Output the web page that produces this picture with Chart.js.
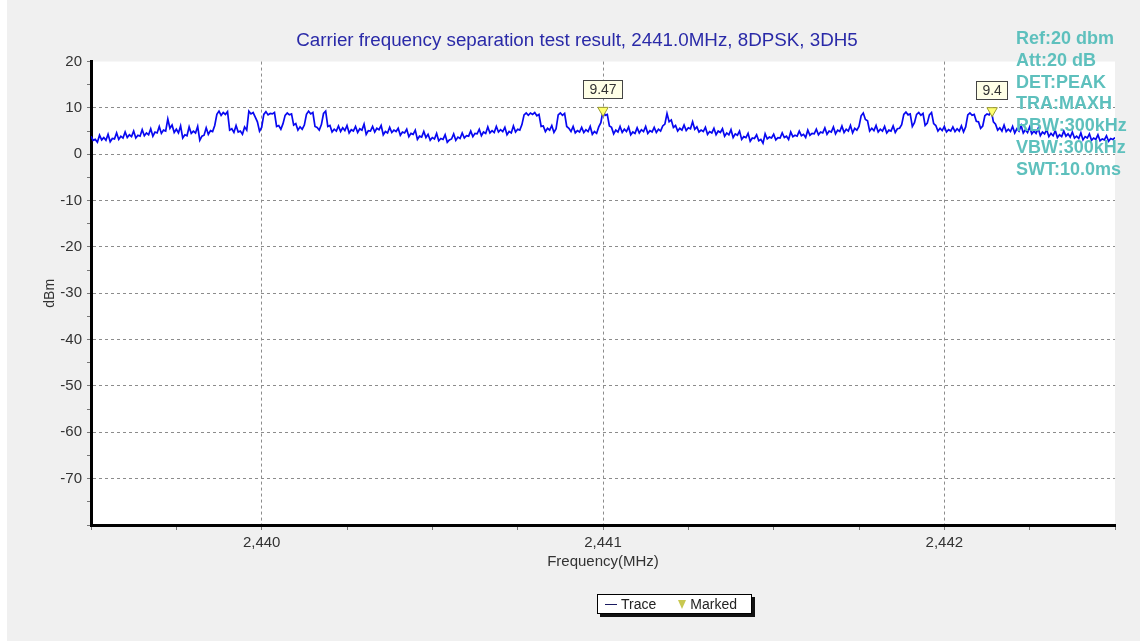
<!DOCTYPE html>
<html>
<head>
<meta charset="utf-8">
<script src="https://cdn.jsdelivr.net/npm/chart.js@4.4.1/dist/chart.umd.min.js"></script>
<style>
    body { margin: 0; background: #fff; }
    #wrap { position: relative; width: 1146px; height: 643px; }
    #legend {
        position: absolute; left: 597px; top: 594px; width: 153px; height: 18px;
        border: 1px solid #000; background: #fff; box-shadow: 3px 3px 0 #111;
        font: 14px Arial, 'Liberation Sans', sans-serif; color: #222;
        display: flex; align-items: center; white-space: nowrap;
    }
    #legend .line { display: inline-block; width: 12px; height: 0; border-top: 1.5px solid #1a1a60; margin: 0 4px 0 7px; }
    #legend .tri { display: inline-block; width: 0; height: 0; border-left: 4px solid transparent; border-right: 4px solid transparent; border-top: 9px solid #c8c850; margin: 0 4px 0 22px; }
</style>
</head>
<body>
<div id="wrap">
    <canvas id="chart" width="1146" height="643"></canvas>
    <div id="legend"><span class="line"></span>Trace<span class="tri"></span>Marked</div>
</div>
<script>
// sweep: 2439.5 .. 2442.5 MHz, every 12.5 kHz
const freqStart = 2439.5;
const freqStep = 0.0125;
// local peaks at each step
const traceLevels = [
    3.9, 3.2, 4.1, 3.6, 4.3, 3.4, 4.6, 3.9, 4.8, 4.2,
    5.0, 4.1, 5.3, 4.6, 5.5, 4.8, 6.0, 5.2, 7.6, 6.3,
    5.4, 6.1, 4.2, 5.9, 5.0, 6.0, 3.9, 5.7, 5.1, 6.2,
    9.3, 9.0, 9.2, 5.5, 6.2, 5.0, 5.9, 9.3, 9.0, 7.0,
    5.8, 9.2, 8.8, 9.0, 6.2, 6.6, 8.9, 8.7, 6.6, 5.9,
    6.3, 9.3, 9.0, 5.8, 6.4, 9.3, 6.2, 5.4, 6.1, 5.7,
    6.2, 5.3, 6.0, 5.5, 6.5, 5.1, 6.0, 5.6, 6.2, 4.9,
    5.8, 5.2, 5.6, 4.8, 5.4, 4.5, 5.2, 3.9, 4.9, 4.3,
    3.6, 4.5, 3.4, 4.2, 3.1, 4.4, 3.7, 4.6, 4.0, 5.0,
    4.5, 5.4, 4.8, 5.9, 5.1, 6.0, 5.3, 5.8, 4.9, 6.1,
    5.4, 6.4, 8.9, 8.9, 9.0, 8.6, 6.1, 5.6, 6.2, 5.5,
    8.9, 8.8, 5.6, 6.0, 5.1, 5.8, 5.3, 6.0, 4.9, 5.9,
    9.47, 8.6, 5.8, 5.2, 6.0, 5.4, 5.9, 4.8, 5.7, 5.3,
    6.0, 5.1, 5.8, 5.4, 6.1, 8.8, 7.4, 6.2, 5.6, 6.3,
    5.7, 7.0, 5.9, 5.2, 5.8, 4.9, 5.6, 5.0, 5.5, 4.6,
    5.3, 4.4, 5.0, 3.8, 4.5, 3.5, 4.2, 3.2, 4.4, 3.7,
    4.3, 3.6, 4.6, 3.9, 4.8, 4.1, 5.0, 4.3, 5.2, 4.5,
    5.4, 4.8, 5.7, 5.0, 5.9, 5.2, 6.1, 5.4, 6.2, 5.6,
    6.0, 8.9, 7.2, 5.6, 6.2, 5.4, 6.0, 5.2, 6.1, 5.5,
    6.4, 9.1, 8.7, 6.8, 9.0, 8.8, 6.7, 9.0, 6.2, 5.6,
    6.0, 5.3, 5.9, 5.5, 6.1, 5.9, 8.9, 8.6, 7.0, 6.1,
    8.7, 9.4, 6.5, 5.7, 6.3, 5.4, 6.0, 5.5, 6.2, 5.3,
    5.9, 5.0, 5.6, 4.8, 5.3, 4.5, 5.1, 4.2, 5.0, 4.4,
    4.8, 3.9, 4.6, 3.8, 4.4, 3.5, 4.2, 3.3, 4.0, 3.4, 3.6
];
// dips half way between the steps above
const traceValleys = [
    3.0, 2.6, 3.1, 3.0, 2.7, 3.3, 3.2, 3.5, 3.6, 3.8,
    3.5, 3.9, 4.0, 4.2, 3.9, 4.6, 4.5, 5.0, 5.6, 4.7,
    4.6, 3.5, 4.0, 4.5, 4.6, 3.0, 4.1, 4.3, 4.9, 8.6,
    8.4, 8.6, 5.2, 4.7, 4.8, 4.3, 5.2, 8.7, 8.0, 5.0,
    8.6, 8.5, 8.7, 6.0, 5.4, 8.4, 8.5, 6.3, 5.2, 5.4,
    8.6, 8.7, 6.0, 5.2, 8.8, 6.0, 4.8, 5.0, 4.9, 5.1,
    4.6, 5.0, 4.7, 5.2, 4.3, 5.0, 4.8, 5.3, 4.2, 4.6,
    4.7, 4.9, 4.1, 4.6, 3.8, 4.3, 3.2, 3.7, 3.6, 3.0,
    3.3, 2.9, 3.2, 2.6, 3.3, 3.0, 3.4, 3.5, 3.9, 3.8,
    4.4, 4.0, 4.5, 4.6, 4.7, 4.8, 4.9, 4.2, 4.6, 4.8,
    5.2, 8.5, 8.4, 8.6, 8.3, 6.0, 4.9, 5.2, 4.7, 8.5,
    8.4, 6.0, 4.9, 4.6, 4.8, 4.7, 4.9, 4.3, 4.5, 6.8,
    8.4, 6.1, 4.4, 4.8, 4.7, 4.9, 4.2, 4.5, 4.6, 4.9,
    4.5, 4.8, 4.7, 5.0, 6.5, 7.0, 5.8, 5.0, 5.2, 5.1,
    5.5, 5.4, 4.8, 4.9, 4.3, 4.6, 4.2, 4.7, 3.9, 4.2,
    3.6, 4.1, 3.2, 3.6, 2.8, 3.4, 2.9, 2.4, 3.3, 3.5,
    3.1, 3.5, 3.6, 3.2, 3.8, 3.9, 4.0, 3.6, 4.1, 4.4,
    4.2, 4.6, 4.3, 4.8, 4.4, 4.9, 4.7, 5.0, 4.6, 5.2,
    8.3, 7.5, 5.0, 5.1, 4.8, 5.0, 4.6, 5.0, 4.7, 5.6,
    8.6, 8.5, 6.0, 8.6, 8.4, 6.2, 8.5, 6.6, 5.0, 5.1,
    4.8, 5.0, 4.9, 5.0, 4.8, 8.5, 8.4, 7.1, 5.6, 8.3,
    8.5, 7.0, 5.2, 5.0, 4.9, 4.9, 4.6, 5.0, 4.6, 4.7,
    4.4, 4.5, 4.0, 4.4, 3.8, 4.0, 3.6, 3.8, 3.9, 3.7,
    3.5, 3.4, 3.1, 3.5, 3.0, 3.2, 2.9, 3.1, 2.8, 3.2
];
const markerFreqs = [2441.0, 2442.14];
const markerLevels = [9.47, 9.4];
const markerTexts = ['9.47', '9.4'];
const settingsLines = ['Ref:20 dbm', 'Att:20 dB', 'DET:PEAK', 'TRA:MAXH', 'RBW:300kHz', 'VBW:300kHz', 'SWT:10.0ms'];
const chartTitle = 'Carrier frequency separation test result, 2441.0MHz, 8DPSK, 3DH5';

const tracePoints = [];
traceLevels.forEach((v, i) => {
    const f = freqStart + i * freqStep;
    tracePoints.push({ x: f, y: v });
    if (i < traceValleys.length) tracePoints.push({ x: f + freqStep / 2, y: traceValleys[i] });
});
const markerPoints = markerFreqs.map((f, i) => ({ x: f, y: markerLevels[i] }));

const isWhole = (v, step) => Math.abs(v / step - Math.round(v / step)) < 1e-6;

const backdrop = {
    id: 'backdrop',
    beforeDraw(chart) {
        const { ctx, chartArea: a } = chart;
        ctx.save();
        ctx.fillStyle = '#ffffff';
        ctx.fillRect(0, 0, chart.width, chart.height);
        ctx.fillStyle = '#f0f0f0';
        ctx.fillRect(7, 0, chart.width - 13, chart.height - 2);
        ctx.fillStyle = '#ffffff';
        ctx.fillRect(a.left, a.top, a.right - a.left, a.bottom - a.top);
        ctx.restore();
    }
};

const annotations = {
    id: 'annotations',
    afterDraw(chart) {
        const { ctx, scales: { x, y } } = chart;
        ctx.save();
        // marker value boxes
        ctx.font = '14px Arial';
        ctx.textAlign = 'center';
        ctx.textBaseline = 'middle';
        markerFreqs.forEach((f, i) => {
            const px = x.getPixelForValue(f);
            const py = y.getPixelForValue(markerLevels[i]);
            const w = ctx.measureText(markerTexts[i]).width + 12;
            const h = 18;
            const top = py - 12 - h;
            ctx.fillStyle = '#ffffe6';
            ctx.fillRect(px - w / 2, top, w, h);
            ctx.strokeStyle = '#444';
            ctx.lineWidth = 1;
            ctx.strokeRect(Math.round(px - w / 2) + 0.5, Math.round(top) + 0.5, Math.round(w), h);
            ctx.fillStyle = '#333';
            ctx.fillText(markerTexts[i], px, top + h / 2 + 1);
        });
        // analyser settings
        ctx.font = 'bold 18px Arial';
        ctx.textAlign = 'left';
        ctx.fillStyle = '#5ec0bd';
        settingsLines.forEach((t, i) => ctx.fillText(t, 1016, 39 + i * 21.8));
        ctx.restore();
    }
};

const chart = new Chart(document.getElementById('chart').getContext('2d'), {
    type: 'scatter',
    plugins: [backdrop, annotations],
    data: {
        datasets: [
            {
                label: 'Trace',
                data: tracePoints,
                showLine: true,
                borderColor: '#0808f0',
                borderWidth: 1.7,
                pointRadius: 0,
                tension: 0,
                order: 2
            },
            {
                label: 'Marked',
                data: markerPoints,
                showLine: false,
                pointStyle: 'triangle',
                rotation: 180,
                pointRadius: 6,
                backgroundColor: '#ffff70',
                borderColor: '#9a9a30',
                borderWidth: 1,
                order: 1
            }
        ]
    },
    options: {
        responsive: false,
        animation: false,
        layout: { padding: { left: 39, right: 31, top: 0, bottom: 68 } },
        plugins: {
            legend: { display: false },
            tooltip: { enabled: false },
            title: {
                display: true,
                text: chartTitle,
                color: '#2a2aa8',
                font: { family: 'Arial', size: 18.8, weight: 'normal' },
                padding: { top: 30, bottom: 9 }
            }
        },
        scales: {
            x: {
                type: 'linear',
                min: 2439.5,
                max: 2442.5,
                afterFit: (s) => { s.height = 50; },
                ticks: {
                    stepSize: 0.25,
                    autoSkip: false,
                    maxRotation: 0,
                    padding: 4,
                    color: '#333',
                    font: { family: 'Arial', size: 15 },
                    callback: (v) => isWhole(v, 1) ? Math.round(v).toLocaleString('en-US') : ''
                },
                grid: {
                    color: (c) => c.tick && isWhole(c.tick.value, 1) ? '#8c8c8c' : 'rgba(0,0,0,0)',
                    lineWidth: 1,
                    tickLength: 5,
                    tickColor: '#777'
                },
                border: { display: true, color: '#000', width: 3, dash: [3, 3] },
                title: {
                    display: true,
                    text: 'Frequency(MHz)',
                    color: '#333',
                    font: { family: 'Arial', size: 15 },
                    padding: { top: 4, bottom: 4 }
                }
            },
            y: {
                type: 'linear',
                min: -80,
                max: 20,
                afterFit: (s) => { s.width = 52; },
                ticks: {
                    stepSize: 5,
                    autoSkip: false,
                    padding: 5,
                    color: '#333',
                    font: { family: 'Arial', size: 15 },
                    callback: (v) => (isWhole(v, 10) && v > -80) ? String(v) : ''
                },
                grid: {
                    color: (c) => c.tick && isWhole(c.tick.value, 10) && c.tick.value > -80 && c.tick.value < 20 ? '#8c8c8c' : 'rgba(0,0,0,0)',
                    lineWidth: 1,
                    tickLength: 4,
                    tickColor: '#777'
                },
                border: { display: true, color: '#000', width: 3, dash: [3, 3] },
                title: {
                    display: true,
                    text: 'dBm',
                    color: '#333',
                    font: { family: 'Arial', size: 14 },
                    padding: { top: 3, bottom: 3 }
                }
            }
        }
    }
});
</script>
</body>
</html>
